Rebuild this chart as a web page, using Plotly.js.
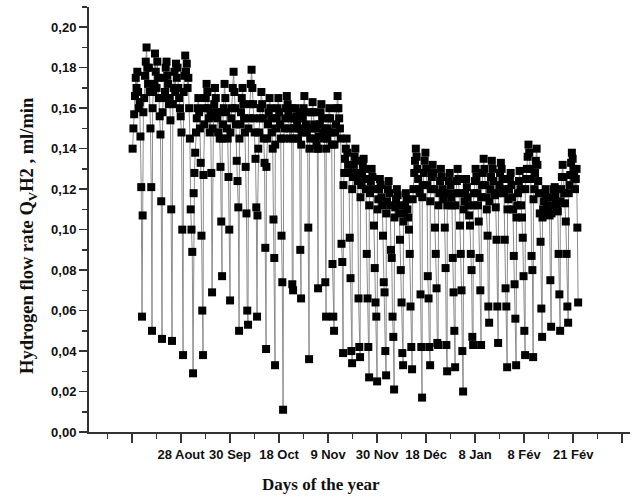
<!DOCTYPE html>
<html>
<head>
<meta charset="utf-8">
<script src="https://cdn.plot.ly/plotly-3.0.1.min.js"></script>
<style>
  html, body { margin: 0; padding: 0; background: #fff; }
  #chart { width: 633px; height: 497px; }
</style>
</head>
<body>
<div id="chart"></div>
<script>
// Hydrogen flow rate (ml/min), logged through each day; every inner list is one day,
// from the morning rise to the night minimum (its last reading).
const nightTime = [
  12.04, 14.08, 16.12, 18.16, 20.41, 22.45, 24.49, 26.33, 28.37, 30.00,
  31.84, 33.67, 35.51, 37.35, 39.18, 40.82, 42.86, 44.49, 46.12, 47.96,
  49.59, 51.22, 53.06, 54.90, 56.53, 58.37, 60.00, 61.84, 63.47, 65.31,
  67.14, 69.18, 70.82, 72.45, 74.29, 75.92, 77.55, 79.59, 81.22, 82.86,
  84.69, 86.53, 88.37, 90.20, 91.84, 93.67, 95.51, 97.35, 98.98, 101.02
];

const dailyReadings = [
  [0.140, 0.150, 0.157, 0.166, 0.175, 0.170, 0.178, 0.168, 0.160, 0.163, 0.146, 0.121, 0.057],
  [0.107, 0.158, 0.165, 0.176, 0.183, 0.190, 0.180, 0.172, 0.180, 0.168, 0.150, 0.121, 0.050],
  [0.160, 0.168, 0.172, 0.187, 0.178, 0.170, 0.183, 0.175, 0.165, 0.156, 0.147, 0.114, 0.046],
  [0.158, 0.165, 0.175, 0.168, 0.180, 0.183, 0.176, 0.172, 0.162, 0.165, 0.154, 0.110, 0.045],
  [0.162, 0.170, 0.178, 0.168, 0.182, 0.175, 0.180, 0.170, 0.165, 0.160, 0.156, 0.148, 0.100, 0.038],
  [0.168, 0.176, 0.186, 0.178, 0.182, 0.170, 0.175, 0.160, 0.145, 0.110, 0.100, 0.089, 0.029],
  [0.118, 0.128, 0.138, 0.148, 0.155, 0.160, 0.165, 0.158, 0.150, 0.133, 0.097, 0.060, 0.038],
  [0.127, 0.152, 0.160, 0.165, 0.172, 0.168, 0.160, 0.155, 0.148, 0.158, 0.128, 0.069],
  [0.150, 0.156, 0.162, 0.170, 0.165, 0.158, 0.155, 0.148, 0.158, 0.145, 0.131, 0.104, 0.077],
  [0.145, 0.152, 0.160, 0.172, 0.165, 0.158, 0.150, 0.145, 0.126, 0.100, 0.065],
  [0.148, 0.155, 0.160, 0.170, 0.178, 0.168, 0.160, 0.152, 0.134, 0.124, 0.111, 0.050],
  [0.145, 0.152, 0.158, 0.165, 0.170, 0.162, 0.155, 0.148, 0.131, 0.108, 0.060, 0.053],
  [0.150, 0.155, 0.162, 0.172, 0.179, 0.170, 0.162, 0.155, 0.148, 0.135, 0.111, 0.057],
  [0.107, 0.140, 0.148, 0.155, 0.160, 0.168, 0.162, 0.155, 0.145, 0.133, 0.091, 0.041],
  [0.131, 0.145, 0.152, 0.158, 0.165, 0.160, 0.155, 0.148, 0.140, 0.105, 0.086, 0.033],
  [0.142, 0.150, 0.155, 0.160, 0.165, 0.158, 0.152, 0.145, 0.097, 0.074, 0.011],
  [0.145, 0.150, 0.155, 0.160, 0.166, 0.162, 0.158, 0.150, 0.145, 0.155, 0.160, 0.073, 0.070],
  [0.145, 0.150, 0.155, 0.160, 0.156, 0.152, 0.145, 0.150, 0.158, 0.090, 0.066],
  [0.142, 0.148, 0.155, 0.160, 0.166, 0.158, 0.152, 0.148, 0.150, 0.101, 0.036],
  [0.140, 0.145, 0.150, 0.158, 0.163, 0.158, 0.152, 0.145, 0.150, 0.142, 0.140, 0.071],
  [0.140, 0.146, 0.152, 0.158, 0.162, 0.155, 0.148, 0.145, 0.150, 0.074, 0.057],
  [0.140, 0.145, 0.150, 0.155, 0.160, 0.155, 0.148, 0.142, 0.083, 0.057, 0.050],
  [0.142, 0.148, 0.152, 0.160, 0.166, 0.160, 0.155, 0.150, 0.145, 0.093, 0.084, 0.039],
  [0.122, 0.128, 0.135, 0.140, 0.145, 0.138, 0.132, 0.128, 0.096, 0.076, 0.040, 0.034],
  [0.120, 0.126, 0.132, 0.136, 0.140, 0.134, 0.128, 0.124, 0.066, 0.042, 0.037],
  [0.116, 0.122, 0.128, 0.132, 0.135, 0.130, 0.125, 0.120, 0.088, 0.066, 0.042, 0.027],
  [0.112, 0.118, 0.124, 0.130, 0.126, 0.120, 0.102, 0.081, 0.064, 0.057, 0.025],
  [0.110, 0.115, 0.120, 0.125, 0.122, 0.116, 0.112, 0.097, 0.074, 0.069, 0.040, 0.028],
  [0.108, 0.114, 0.120, 0.124, 0.118, 0.112, 0.090, 0.086, 0.057, 0.047, 0.021],
  [0.106, 0.111, 0.115, 0.120, 0.117, 0.112, 0.108, 0.095, 0.080, 0.064, 0.039, 0.033],
  [0.104, 0.108, 0.112, 0.118, 0.115, 0.110, 0.106, 0.100, 0.088, 0.062, 0.042, 0.031],
  [0.115, 0.120, 0.128, 0.134, 0.140, 0.136, 0.130, 0.125, 0.120, 0.118, 0.068, 0.042, 0.017],
  [0.116, 0.122, 0.128, 0.134, 0.138, 0.130, 0.122, 0.077, 0.066, 0.042, 0.033],
  [0.114, 0.120, 0.126, 0.132, 0.128, 0.120, 0.101, 0.088, 0.071, 0.044, 0.043],
  [0.112, 0.118, 0.124, 0.130, 0.126, 0.120, 0.115, 0.118, 0.101, 0.081, 0.043, 0.030],
  [0.112, 0.118, 0.124, 0.128, 0.122, 0.116, 0.112, 0.086, 0.069, 0.050, 0.032],
  [0.112, 0.118, 0.124, 0.130, 0.125, 0.118, 0.102, 0.088, 0.070, 0.040, 0.020],
  [0.110, 0.114, 0.118, 0.125, 0.121, 0.116, 0.112, 0.107, 0.102, 0.088, 0.080, 0.047, 0.043],
  [0.112, 0.118, 0.124, 0.130, 0.126, 0.118, 0.112, 0.104, 0.086, 0.070, 0.043],
  [0.116, 0.122, 0.128, 0.135, 0.130, 0.122, 0.116, 0.110, 0.097, 0.062, 0.054],
  [0.114, 0.120, 0.126, 0.134, 0.130, 0.124, 0.118, 0.117, 0.111, 0.095, 0.062, 0.044],
  [0.118, 0.122, 0.128, 0.133, 0.130, 0.125, 0.120, 0.118, 0.095, 0.071, 0.062, 0.032],
  [0.110, 0.115, 0.120, 0.125, 0.128, 0.122, 0.116, 0.110, 0.087, 0.073, 0.056, 0.033],
  [0.106, 0.112, 0.118, 0.124, 0.129, 0.120, 0.112, 0.106, 0.096, 0.077, 0.050, 0.038],
  [0.120, 0.125, 0.130, 0.136, 0.142, 0.138, 0.130, 0.125, 0.087, 0.080, 0.037],
  [0.115, 0.120, 0.128, 0.134, 0.140, 0.132, 0.124, 0.118, 0.108, 0.094, 0.061, 0.047],
  [0.106, 0.110, 0.114, 0.118, 0.120, 0.116, 0.112, 0.109, 0.108, 0.107, 0.075, 0.052],
  [0.108, 0.112, 0.116, 0.120, 0.121, 0.117, 0.113, 0.110, 0.109, 0.088, 0.068, 0.050],
  [0.114, 0.120, 0.126, 0.132, 0.126, 0.118, 0.113, 0.104, 0.088, 0.062, 0.054],
  [0.118, 0.122, 0.127, 0.133, 0.138, 0.135, 0.130, 0.126, 0.120, 0.125, 0.130, 0.101, 0.064]
];

// interval between two consecutive readings, in axis units
const sampleStep = 0.16;

const dateTicks = [10, 20, 30, 40, 50, 60, 70, 80, 90, 100, 110];
const dateLabels = ['', '28 Aout', '30 Sep', '18 Oct', '9 Nov', '30 Nov', '18 Déc', '8 Jan', '8 Fév', '21 Fév', ''];
const minorDateTicks = [5, 15, 25, 35, 45, 55, 65, 75, 85, 95, 105];

// each day's readings lead up to its night minimum at nightTime
const xs = [], ys = [];
dailyReadings.forEach((day, i) => {
  const n = day.length;
  day.forEach((v, k) => {
    xs.push(nightTime[i] - (n - 1 - k) * sampleStep);
    ys.push(v);
  });
});

const trace = {
  x: xs,
  y: ys,
  type: 'scatter',
  mode: 'lines+markers',
  line: { color: '#8c8c8c', width: 1 },
  marker: { symbol: 'square', size: 8, color: '#000' },
  hoverinfo: 'x+y'
};

const axisFont = { family: 'Liberation Sans, Arial, sans-serif', size: 13, color: '#111', weight: 'bold' };

const layout = {
  width: 633,
  height: 497,
  margin: { l: 89, r: 3, t: 7, b: 65 },
  paper_bgcolor: '#fff',
  plot_bgcolor: '#fff',
  showlegend: false,
  separators: ',.',
  xaxis: {
    range: [1.22, 111.6],
    tickmode: 'array',
    tickvals: dateTicks,
    ticktext: dateLabels,
    ticks: 'outside',
    ticklen: 9,
    tickwidth: 1.5,
    tickcolor: '#333',
    minor: { tickmode: 'array', tickvals: minorDateTicks, ticks: 'outside', ticklen: 5, tickwidth: 1.5, tickcolor: '#333' },
    showline: true,
    linecolor: '#333',
    linewidth: 2,
    showgrid: false,
    zeroline: false,
    tickfont: axisFont
  },
  yaxis: {
    range: [0, 0.21],
    tickmode: 'linear',
    tick0: 0,
    dtick: 0.02,
    tickformat: '.2f',
    ticks: 'outside',
    ticklen: 8,
    tickwidth: 1.5,
    tickcolor: '#333',
    minor: { dtick: 0.01, ticks: 'outside', ticklen: 5, tickwidth: 1.5, tickcolor: '#333' },
    showline: true,
    linecolor: '#333',
    linewidth: 2,
    showgrid: false,
    zeroline: false,
    tickfont: axisFont
  },
  annotations: [
    {
      text: '<b>Days of the year</b>',
      xref: 'paper', yref: 'paper',
      x: (321 - 89) / 541, y: 0,
      yshift: -52,
      xanchor: 'center', yanchor: 'middle',
      showarrow: false,
      font: { family: 'Liberation Serif, Times New Roman, serif', size: 17, color: '#111' }
    },
    {
      text: '<b>Hydrogen flow rate Q<sub>V</sub>H2 , ml/min</b>',
      xref: 'paper', yref: 'paper',
      x: 0, xshift: -61,
      y: (432 - 236) / 425,
      xanchor: 'center', yanchor: 'middle',
      textangle: -90,
      showarrow: false,
      font: { family: 'Liberation Serif, Times New Roman, serif', size: 18.5, color: '#111' }
    }
  ]
};

Plotly.newPlot('chart', [trace], layout, { displayModeBar: false, staticPlot: true });
</script>
</body>
</html>
